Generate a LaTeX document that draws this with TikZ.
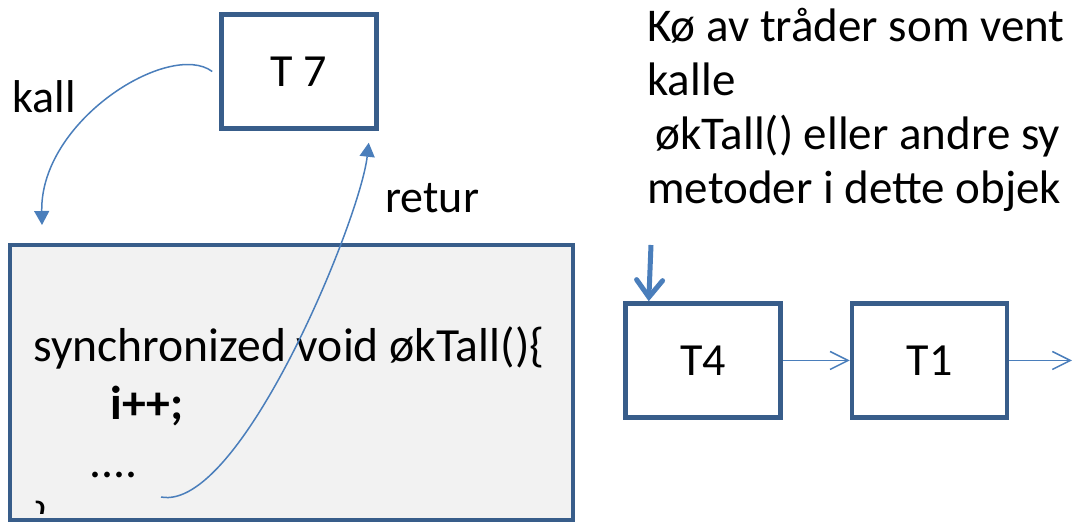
\documentclass[tikz,border=0pt]{standalone}
\usepackage{fontspec}
\setmainfont{Carlito}
\usepackage{xcolor}
\usetikzlibrary{arrows.meta, positioning}

\definecolor{boxline}{HTML}{385D8A}
\definecolor{arrline}{HTML}{4A7EBB}
\definecolor{codefill}{HTML}{F2F2F2}

\begin{document}
\begin{tikzpicture}[x=0.5pt, y=-0.5pt,
  tbox/.style={rectangle, draw=boxline, line width=2.25pt, minimum width=77.5pt,
              minimum height=57pt, inner sep=0pt, font=\fontsize{23}{27}\selectfont},
  cbox/.style={rectangle, draw=boxline, line width=2.25pt, fill=codefill,
              minimum width=281.5pt, minimum height=137.5pt, inner sep=0pt},
  txt/.style={anchor=base west, inner sep=0pt, align=left, font=\fontsize{23}{27}\selectfont},
  arr/.style={-{Triangle[length=7pt, width=7.5pt]}, arrline, line width=0.75pt},
  qarr/.style={-{Straight Barb[length=9pt, width=9pt]}, arrline, line width=0.75pt},
  inarr/.style={-{Straight Barb[length=8.5pt, width=13pt, line cap=round]}, arrline, line width=2.5pt}
]
\useasboundingbox (0,0) rectangle (1073,523);

% thread and synchronized method (multi-line nodes sit on their last baseline)
\node[tbox] (t7) at (299,71.5) {T 7};
\node[cbox] (code) at (291.5,382.5) {};
\begin{scope}
\clip (10,245) rectangle (573,514);
\node[txt, font=\fontsize{23.8}{29}\selectfont] (body) at (33,536) {synchronized void økTall()\{\\
\hspace*{38.5pt}\textbf{i++;}\\
\hspace*{28pt}....\\
\}};
\end{scope}
\node[txt] (kall) at (12,113) {kall};
\node[txt] (retur) at (385,213) {retur};

% waiting queue
\node[txt, font=\fontsize{23.5}{27}\selectfont] (kotekst) at (647,204) {Kø av tråder som vent\\
kalle\\
\hspace*{4pt}økTall() eller andre sy\\
metoder i dette objek};
\node[tbox] (t4) at (703,360.5) {T4};
\node[tbox, right=33.5pt of t4] (t1) {T1};

\coordinate (kallend) at (42,225);
\coordinate (retstart) at (161,497);
\coordinate (qin) at (651,245);
\coordinate (qout) at (1072,360.5);

\draw[arr] ([xshift=-3.5pt]t7.west) .. controls (170,40) and (40,120) .. (kallend);
\draw[arr] (retstart) .. controls (240,512) and (360,220) .. ([shift={(-10,12)}]t7.south east);
\draw[inarr] (qin) -- ([xshift=12.75pt]t4.north west);
\draw[qarr] (t4) -- (t1);
\draw[qarr] (t1) -- (qout);
\end{tikzpicture}
\end{document}
